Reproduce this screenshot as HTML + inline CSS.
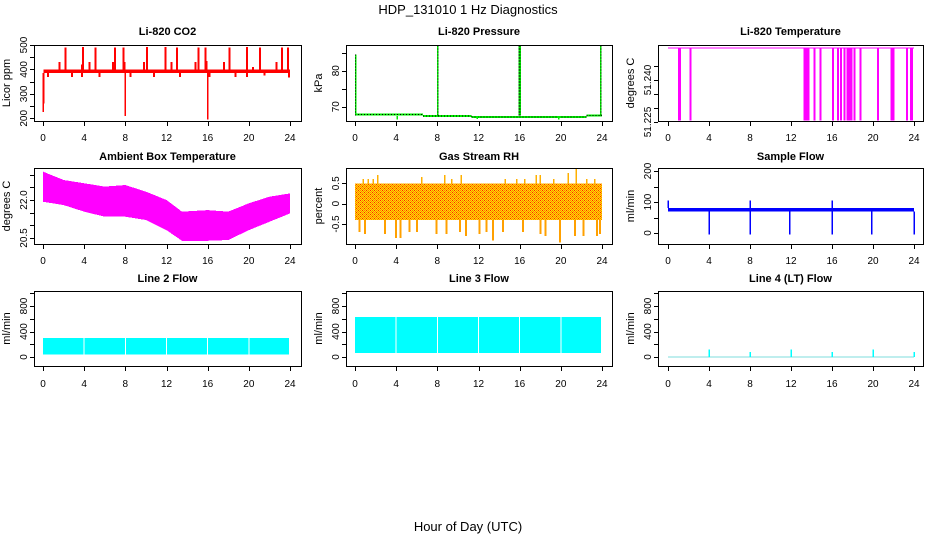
<!DOCTYPE html>
<html><head><meta charset="utf-8"><style>
html,body{margin:0;padding:0;background:#fff;}
svg{display:block;font-family:"Liberation Sans",sans-serif;}
</style></head><body>
<svg id="c" width="936" height="540" viewBox="0 0 936 540" xmlns="http://www.w3.org/2000/svg">
<defs>
<pattern id="rhpat" width="4" height="4" patternUnits="userSpaceOnUse">
<rect width="4" height="4" fill="#ffe000"/>
<rect x="0" y="0" width="1" height="1" fill="#ff2000"/>
<rect x="2" y="0" width="1" height="1" fill="#ff8000"/>
<rect x="1" y="1" width="1" height="1" fill="#ff8000"/>
<rect x="3" y="1" width="1" height="1" fill="#ff8000"/>
<rect x="2" y="2" width="1" height="1" fill="#ff2000"/>
<rect x="0" y="2" width="1" height="1" fill="#ff8000"/>
<rect x="1" y="3" width="1" height="1" fill="#ff8000"/>
<rect x="3" y="3" width="1" height="1" fill="#ff8000"/>
</pattern>
</defs>
<text x="468" y="14" font-size="13" text-anchor="middle">HDP_131010  1 Hz Diagnostics</text>
<text x="468" y="531" font-size="13" text-anchor="middle">Hour of Day (UTC)</text>
</svg>
<script>
// ---- data ----
const xTicks = [0,4,8,12,16,20,24];
// CO2
const co2BandLow = 386, co2BandHigh = 400;
const co2UpHours = [1.6,2.2,3.8,3.9,4.5,5.1,6.8,7.0,7.8,7.9,9.8,10.1,11.9,12.5,13.0,14.8,15.1,15.8,15.9,17.6,18.1,19.8,20.4,21.1,22.7,23.2,23.8];
const co2UpVals = [430,490,420,492,430,490,430,490,490,430,430,492,492,430,490,430,490,490,435,430,490,492,410,490,430,490,490];
const co2DownHours = [0.5,2.8,3.8,5.5,8.5,10.8,13.3,16.2,18.7,19.8,21.5,23.9];
const co2DownVals = [370,370,370,370,370,370,370,370,370,370,375,368];
const co2DeepHours = [0.02,0.08,8.0,16.0];
const co2DeepVals = [225,260,210,195];
// Pressure
const pressBaseHours = [0,6.6,11.3,22.5,24];
const pressBaseVals = [67.9,67.4,67.2,67.6];
const pressSpikeHours = [0.05,8.05,15.95,16.05,23.9];
const pressSpikeVals = [84.5,87,87,87,87];
const pressDipHours = [4.1,11.9,19.8];
const pressDipVals = [66.5,66.6,66.4];
// Li-820 temperature
const tempTop = 51.2515;
const tempDropHours = [1.05,1.15,2.2,13.3,13.5,13.7,14.3,14.9,16.1,16.6,16.9,17.2,17.5,17.7,17.9,18.2,18.8,20.5,21.8,22.0,23.3,23.7,23.8];
const tempDropVals = [51.2255,51.2255,51.2255,51.2255,51.2255,51.2255,51.2255,51.2255,51.2255,51.2255,51.2255,51.2255,51.2255,51.2255,51.2255,51.2255,51.2255,51.2255,51.2255,51.2255,51.2255,51.2255,51.2255];
// Ambient
const ambHours = [0,2,4,6,8,10,12,13.5,16,18,20,22,24];
const ambMax = [23.12,22.79,22.66,22.53,22.59,22.33,22.0,21.54,21.6,21.54,21.87,22.13,22.26];
const ambMin = [21.93,21.8,21.54,21.34,21.34,21.21,20.81,20.39,20.39,20.42,20.81,21.14,21.47];
// RH
const rhBandLow = -0.4, rhBandHigh = 0.5;
const rhUpHours = [0.8,1.3,1.75,2.2,6.5,8.7,9.4,10.3,14.6,15.7,16.5,17.6,18.0,19.3,20.7,21.5,22.5,23.3];
const rhUpVals = [0.6,0.6,0.6,0.7,0.65,0.7,0.6,0.7,0.6,0.6,0.6,0.7,0.7,0.6,0.75,0.85,0.6,0.6];
const rhDownHours = [0.45,0.95,2.9,4.0,4.4,5.3,6.0,7.9,8.9,10.2,10.8,12.1,12.8,13.4,14.4,16.3,18.0,18.5,19.9,21.4,22.2,23.5,23.8];
const rhDownVals = [-0.7,-0.75,-0.75,-0.85,-0.85,-0.7,-0.7,-0.75,-0.75,-0.7,-0.8,-0.75,-0.7,-0.9,-0.7,-0.7,-0.75,-0.8,-0.95,-0.8,-0.8,-0.8,-0.75];
// Sample flow
const sfBandLow = 70, sfBandHigh = 80;
const sfDipHours = [4,8,11.9,16,19.9,24];
const sfDipVals = [-5,-5,-5,-5,-5,-5];
const sfSpikeHours = [0,8,16];
const sfSpikeVals = [105,105,105];
// Line flows
const l2Low = 40, l2High = 300;
const l2GapHours = [4,8,12,16,20];
const l3Low = 63, l3High = 627;
const l3GapHours = [4,8,12,16,20];
const l4SpikeHours = [4,8,12,16,20,24];
const l4SpikeVals = [120,80,120,80,120,80];

// ---- drawing ----
const NS = "http://www.w3.org/2000/svg";
const svg = document.getElementById('c');
function el(tag, attrs, parent){
  const e = document.createElementNS(NS, tag);
  for (const k in attrs) e.setAttribute(k, attrs[k]);
  (parent||svg).appendChild(e);
  return e;
}
const cols = [{bx0:34,bx1:301,h0:43,h24:290},{bx0:346,bx1:612,h0:355,h24:602},{bx0:658,bx1:923,h0:668,h24:914}];
const rows = [{by0:45,by1:121,title:35,lab:141},{by0:168,by1:244,title:160,lab:264},{by0:291,by1:366,title:282,lab:387}];

function panel(name, ci, ri, title, ytitle, v1, p1, v2, p2, ticks, labels){
  const c = cols[ci], r = rows[ri];
  const g = el('g', {});
  
  
  const xs = h => c.h0 + (c.h24 - c.h0) * h / 24;
  const ys = v => p1 + (p2 - p1) * (v - v1) / (v2 - v1);
  const t = el('text', {x:(c.bx0+c.bx1)/2, y:r.title, 'font-size':11, 'font-weight':'bold', 'text-anchor':'middle'}, g);
  t.textContent = title;
  
  
  const yt = el('text', {transform:`translate(${c.bx0-24},${(r.by0+r.by1)/2}) rotate(-90)`, 'font-size':11, 'text-anchor':'middle'}, g);
  yt.textContent = ytitle;
  
  
  const xa = el('g', {stroke:'#000','stroke-width':1}, g);
  
  
  el('line', {x1:xs(0), x2:xs(24), y1:r.by1+0.5, y2:r.by1+0.5}, xa);
  xTicks.forEach(h => {
    el('line', {x1:Math.round(xs(h))+0.5, x2:Math.round(xs(h))+0.5, y1:r.by1, y2:r.by1+5}, xa);
    const tl = el('text', {x:xs(h), y:r.lab, 'font-size':10, 'text-anchor':'middle', stroke:'none'}, g);
    tl.textContent = h;
    
    
  });
  const ya = el('g', {stroke:'#000','stroke-width':1}, g);
  
  
  el('line', {x1:c.bx0+0.5, x2:c.bx0+0.5, y1:ys(ticks[0]), y2:ys(ticks[ticks.length-1])}, ya);
  ticks.forEach(v => {
    el('line', {x1:c.bx0-4, x2:c.bx0, y1:Math.round(ys(v))+0.5, y2:Math.round(ys(v))+0.5}, ya);
  });
  labels.forEach(v => {
    const tl = el('text', {transform:`translate(${c.bx0-7},${ys(v)}) rotate(-90)`, 'font-size':10, 'text-anchor':'middle'}, g);
    tl.textContent = v;
    
    
  });
  const plot = el('g', {'shape-rendering':'crispEdges'}, g);
  
  
  const box = el('rect', {x:c.bx0+0.5, y:r.by0+0.5, width:c.bx1-c.bx0, height:r.by1-r.by0, fill:'none', stroke:'#000'}, g);
  
  
  return {xs, ys, plot};
}
function vline(p, x, yA, yB, color, w, nm){
  const l = el('line', {x1:x, x2:x, y1:yA, y2:yB, stroke:color, 'stroke-width':w||1}, p);
  
  
  return l;
}
function band(p, x1, x2, yA, yB, fill, nm){
  const r = el('rect', {x:Math.min(x1,x2), y:Math.min(yA,yB), width:Math.abs(x2-x1), height:Math.abs(yB-yA), fill:fill}, p);
  
  
  return r;
}

// CO2
(function(){
  const P = panel('co2',0,0,'Li-820 CO2','Licor ppm',500,45,200,118.3,[200,250,300,350,400,450,500],[200,300,400,500]);
  const red = '#ff0000';
  band(P.plot, P.xs(0.05), P.xs(24), P.ys(co2BandHigh), P.ys(co2BandLow), red, 'co2-band');
  co2UpHours.forEach((h,i)=>vline(P.plot, P.xs(h), P.ys(co2BandHigh), P.ys(co2UpVals[i]), red, 2, 'co2-spike'));
  co2DownHours.forEach((h,i)=>vline(P.plot, P.xs(h), P.ys(co2BandLow), P.ys(co2DownVals[i]), red, 2, 'co2-dip'));
  co2DeepHours.forEach((h,i)=>vline(P.plot, P.xs(h), P.ys(co2BandLow), P.ys(co2DeepVals[i]), red, 1.2, 'co2-deep-dip'));
})();
// Pressure
(function(){
  const P = panel('pressure',1,0,'Li-820 Pressure','kPa',80,70.7,70,106.7,[70,75,80,85],[70,80]);
  for(let i=0;i<pressBaseVals.length;i++){
    const l = el('line',{x1:P.xs(pressBaseHours[i]),x2:P.xs(pressBaseHours[i+1]),y1:P.ys(pressBaseVals[i]),y2:P.ys(pressBaseVals[i]),stroke:'#00ee00','stroke-width':2},P.plot);
    
    
    const d = el('line',{x1:P.xs(pressBaseHours[i]),x2:P.xs(pressBaseHours[i+1]),y1:P.ys(pressBaseVals[i]),y2:P.ys(pressBaseVals[i]),stroke:'#000','stroke-width':1,'stroke-dasharray':'1 2'},P.plot);
    
    
  }
  pressSpikeHours.forEach((h,i)=>{
    vline(P.plot, P.xs(h), P.ys(67.5), P.ys(pressSpikeVals[i]), '#00ee00', 1.5, 'pressure-spike');
    const d = vline(P.plot, P.xs(h), P.ys(67.5), P.ys(pressSpikeVals[i]), '#000', 1, 'pressure-spike-points');
    d.setAttribute('stroke-dasharray','1 2');
  });
  pressDipHours.forEach((h,i)=>vline(P.plot, P.xs(h), P.ys(67.4), P.ys(pressDipVals[i]), '#00ee00', 1.5, 'pressure-dip'));
})();
// Li-820 temperature
(function(){
  const P = panel('li820-temp',2,0,'Li-820 Temperature','degrees C',51.240,80,51.225,122,[51.225,51.230,51.235,51.240,51.245],['51.225','51.240']);
  const l = el('line',{x1:P.xs(0),x2:P.xs(24),y1:P.ys(tempTop),y2:P.ys(tempTop),stroke:'#ff00ff','stroke-width':1},P.plot);
  
  
  tempDropHours.forEach((h,i)=>vline(P.plot, P.xs(h), P.ys(tempTop), P.ys(tempDropVals[i]), '#ff00ff', 2, 'li820-temp-drop'));
})();
// Ambient
(function(){
  const P = panel('ambient-temp',0,1,'Ambient Box Temperature','degrees C',22.0,200,20.5,238,[20.5,21.0,21.5,22.0,22.5,23.0],['20.5','22.0']);
  let pts = ambHours.map((h,i)=>`${P.xs(h)},${P.ys(ambMax[i])}`);
  for(let i=ambHours.length-1;i>=0;i--) pts.push(`${P.xs(ambHours[i])},${P.ys(ambMin[i])}`);
  const pg = el('polygon',{points:pts.join(' '),fill:'#ff00ff'},P.plot);
  
  
})();
// RH
(function(){
  const P = panel('gas-rh',1,1,'Gas Stream RH','percent',0.5,183.3,-0.5,224,[-0.5,0,0.5],['-0.5','0','0.5']);
  band(P.plot, P.xs(0), P.xs(24), P.ys(rhBandHigh), P.ys(rhBandLow), 'url(#rhpat)', 'gas-rh-band');
  rhUpHours.forEach((h,i)=>vline(P.plot, P.xs(h), P.ys(rhBandHigh), P.ys(rhUpVals[i]), '#ffb000', 1.5, 'gas-rh-spike'));
  rhDownHours.forEach((h,i)=>vline(P.plot, P.xs(h), P.ys(rhBandLow), P.ys(rhDownVals[i]), '#ffa000', 2, 'gas-rh-dip'));
})();
// Sample flow
(function(){
  const P = panel('sample-flow',2,1,'Sample Flow','ml/min',0,233,100,202,[0,50,100,150,200],[0,100,200]);
  band(P.plot, P.xs(0), P.xs(24), P.ys(sfBandHigh), P.ys(sfBandLow), '#0000ff', 'sample-flow-band');
  sfDipHours.forEach((h,i)=>vline(P.plot, P.xs(h), P.ys(sfBandLow), P.ys(sfDipVals[i]), '#0000ff', 1.5, 'sample-flow-dip'));
  sfSpikeHours.forEach((h,i)=>vline(P.plot, P.xs(h), P.ys(sfBandHigh), P.ys(sfSpikeVals[i]), '#0000ff', 1.5, 'sample-flow-spike'));
})();
// Line 2
(function(){
  const P = panel('line2-flow',0,2,'Line 2 Flow','ml/min',0,357,400,331.5,[0,200,400,600,800,1000],[0,400,800]);
  band(P.plot, P.xs(0), P.xs(23.9), P.ys(l2High), P.ys(l2Low), '#00ffff', 'line2-flow-band');
  l2GapHours.forEach(h=>vline(P.plot, P.xs(h), P.ys(l2High), P.ys(l2Low), '#fff', 1, 'line2-flow-gap'));
})();
// Line 3
(function(){
  const P = panel('line3-flow',1,2,'Line 3 Flow','ml/min',0,357,400,331.5,[0,200,400,600,800,1000],[0,400,800]);
  band(P.plot, P.xs(0), P.xs(23.9), P.ys(l3High), P.ys(l3Low), '#00ffff', 'line3-flow-band');
  l3GapHours.forEach(h=>vline(P.plot, P.xs(h), P.ys(l3High), P.ys(l3Low), '#fff', 1, 'line3-flow-gap'));
})();
// Line 4
(function(){
  const P = panel('line4-flow',2,2,'Line 4 (LT) Flow','ml/min',0,357,400,331.5,[0,200,400,600,800,1000],[0,400,800]);
  const l = el('line',{x1:P.xs(0),x2:P.xs(24),y1:P.ys(0),y2:P.ys(0),stroke:'#7fdede','stroke-width':1},P.plot);
  
  
  l4SpikeHours.forEach((h,i)=>vline(P.plot, P.xs(h), P.ys(0), P.ys(l4SpikeVals[i]), '#00ffff', 1.5, 'line4-flow-spike'));
})();
</script>
</body></html>
